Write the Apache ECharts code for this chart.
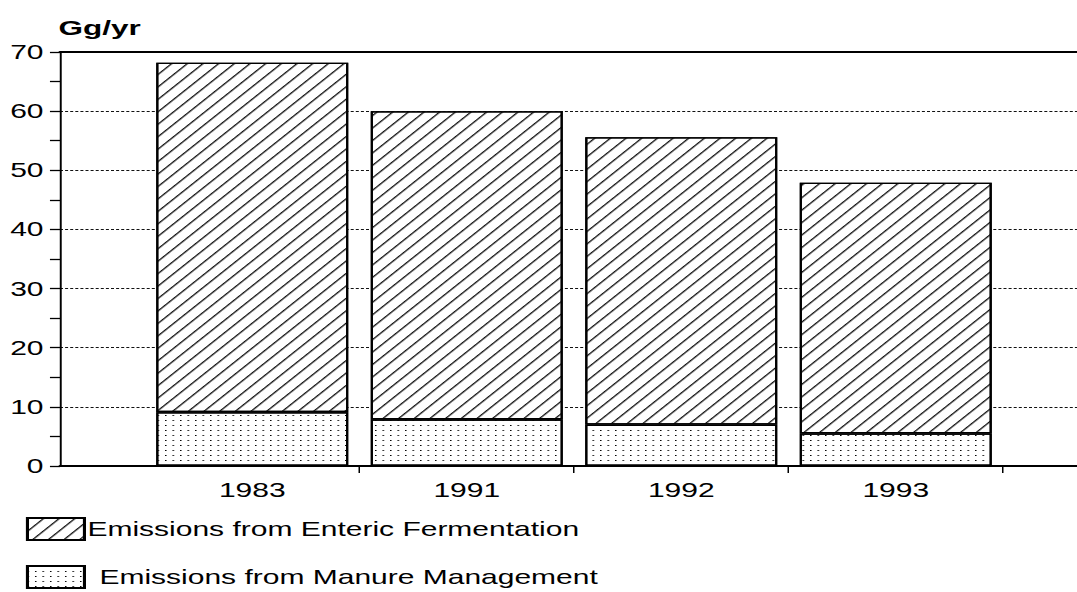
<!DOCTYPE html>
<html>
<head>
<meta charset="utf-8">
<script src="https://cdn.jsdelivr.net/npm/echarts@6/dist/echarts.min.js"></script>
<style>
html, body { margin: 0; padding: 0; background: #fff; overflow: hidden; }
/* the source picture is stretched sideways, so the chart is drawn narrow and widened */
#chart { width: 718px; height: 592px; transform: scaleX(1.5); transform-origin: 0 0; }
</style>
</head>
<body>
<div id="chart"></div>
<script>
var years = ['1983', '1991', '1992', '1993'];
var manure = [9.1, 7.9, 7.0, 5.5];
var enteric = [59.1, 52.1, 48.6, 42.4];
var entericName = 'Emissions from Enteric Fermentation';
var manureName = 'Emissions from Manure Management';
var yMin = 0, yMax = 70, yStep = 10;

var font = "'Liberation Sans', Arial, sans-serif";

var hatch = {
    symbol: 'rect',
    symbolSize: 1,
    color: '#111',
    dashArrayX: [1, 0],
    dashArrayY: [1, 7],
    rotation: -50 * Math.PI / 180
};
var dots = {
    symbol: 'rect',
    symbolSize: 1,
    color: '#000',
    dashArrayX: [1, 4],
    dashArrayY: [1, 4]
};

function legendBox(name, top, pad) {
    return {
        orient: 'vertical',
        left: 12.3,
        top: top,
        itemWidth: 38,
        itemHeight: 22,
        icon: 'rect',
        selectedMode: false,
        textStyle: { fontFamily: font, fontSize: 20, color: '#000', padding: [0, 0, 0, pad] },
        data: [name]
    };
}

var myChart = echarts.init(document.getElementById('chart'), null, { renderer: 'svg' });
var option = {
    animation: false,
    backgroundColor: '#fff',
    title: {
        text: 'Gg/yr',
        left: 39,
        top: 17,
        padding: 0,
        textStyle: { fontFamily: font, fontSize: 21, fontWeight: 'bold', color: '#000' }
    },
    legend: [
        legendBox(entericName, 512, -3),
        legendBox(manureName, 560, 5)
    ],
    grid: [
        { left: 40, right: 0, top: 52, bottom: 126 },
        { left: 96.67, right: 49.33, top: 52, bottom: 126 }
    ],
    xAxis: [
        {   // frame line along the bottom
            gridIndex: 0, type: 'value', min: 0, max: 1, position: 'bottom',
            axisLine: { show: true, lineStyle: { color: '#000', width: 2 } },
            axisTick: { show: false }, axisLabel: { show: false }, splitLine: { show: false }
        },
        {   // frame line along the top
            gridIndex: 0, type: 'value', min: 0, max: 1, position: 'top',
            axisLine: { show: true, onZero: false, lineStyle: { color: '#000', width: 2 } },
            axisTick: { show: false }, axisLabel: { show: false }, splitLine: { show: false }
        },
        {
            gridIndex: 1, type: 'category', data: years,
            axisLine: { show: false },
            axisTick: {
                show: true, length: 7,
                interval: function (i) { return i > 0; },
                lineStyle: { color: '#000', width: 1 }
            },
            axisLabel: { fontFamily: font, fontSize: 20, color: '#000', margin: 14 }
        }
    ],
    yAxis: [
        {
            gridIndex: 0, type: 'value', min: yMin, max: yMax, interval: yStep,
            axisLine: { show: true, lineStyle: { color: '#000', width: 1.3 } },
            axisTick: { show: true, length: 6.7, lineStyle: { color: '#000', width: 1.3 } },
            minorTick: { show: true, splitNumber: 2, length: 6.7, lineStyle: { color: '#000', width: 1.3 } },
            axisLabel: { fontFamily: font, fontSize: 20, color: '#000', margin: 11 },
            splitLine: { show: true, lineStyle: { color: '#111', width: 1.2, type: [2, 1.4] } }
        },
        {
            gridIndex: 1, type: 'value', min: yMin, max: yMax, interval: yStep,
            axisLine: { show: false }, axisTick: { show: false },
            axisLabel: { show: false }, splitLine: { show: false }
        }
    ],
    series: [
        {
            name: manureName, type: 'bar', stack: 'total',
            xAxisIndex: 2, yAxisIndex: 1,
            barWidth: '89.5%',
            data: manure,
            itemStyle: { color: '#fff', borderColor: '#000', borderWidth: 1.4, decal: dots }
        },
        {
            name: entericName, type: 'bar', stack: 'total',
            xAxisIndex: 2, yAxisIndex: 1,
            barWidth: '89.5%',
            data: enteric,
            itemStyle: { color: '#fff', borderColor: '#000', borderWidth: 1.4, decal: hatch }
        }
    ]
};
myChart.setOption(option);
</script>
</body>
</html>
